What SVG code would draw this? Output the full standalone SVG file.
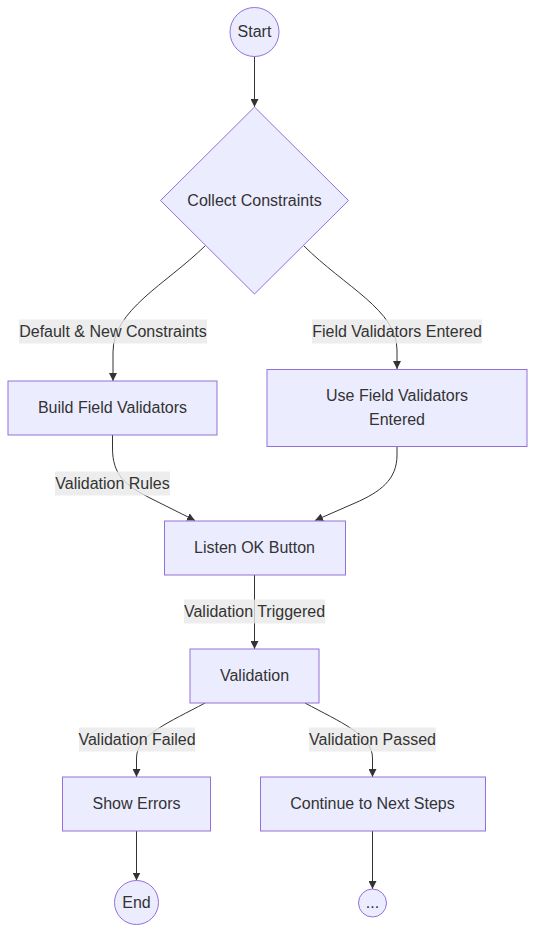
<svg xmlns="http://www.w3.org/2000/svg" width="535" height="933" viewBox="0 0 535 933">
<style>
.node{fill:#ECECFF;stroke:#9370DB;stroke-width:1}
.t{font-family:"Liberation Sans",Arial,sans-serif;font-size:16px;fill:#333333;text-anchor:middle;dominant-baseline:central}
.e{fill:none;stroke:#333333;stroke-width:1}
.lb{fill:#e8e8e8;opacity:0.8}
</style>
<defs>
<marker id="arr" viewBox="0 0 10 10" refX="10" refY="5" markerWidth="8" markerHeight="8" markerUnits="userSpaceOnUse" orient="auto">
<path d="M0,0 L10,5 L0,10 z" fill="#333333"/>
</marker>
</defs>
<rect width="535" height="933" fill="#ffffff"/>
<g id="edges">
<path class="e" d="M254.5,56.5 L254.5,107" marker-end="url(#arr)"/>
<path class="e" d="M205.5,245.5 C165,285 113,310 113,352 L113,381" marker-end="url(#arr)"/>
<path class="e" d="M303.5,245.5 C345,287 397,310 397,350 L397,369" marker-end="url(#arr)"/>
<path class="e" d="M112.5,435 L112.5,448 C112.5,475 125,485 150,498 L195,520.5" marker-end="url(#arr)"/>
<path class="e" d="M397,446 L397,455 C397,480 380,492 355,503 L315,520.5" marker-end="url(#arr)"/>
<path class="e" d="M254.5,575 L254.5,649" marker-end="url(#arr)"/>
<path class="e" d="M205,703 C170,722 136.5,735 136.5,758 L136.5,777" marker-end="url(#arr)"/>
<path class="e" d="M305,703 C340,722 372.5,735 372.5,758 L372.5,777" marker-end="url(#arr)"/>
<path class="e" d="M136.5,831 L136.5,880.5" marker-end="url(#arr)"/>
<path class="e" d="M372.5,831 L372.5,889" marker-end="url(#arr)"/>
</g>
<g id="edge-labels">
<g id="lbl-default"><rect class="lb" x="19" y="319.5" width="188" height="24"/><text class="t" x="113" y="331">Default &amp; New Constraints</text></g>
<g id="lbl-field"><rect class="lb" x="312" y="319.5" width="170" height="24"/><text class="t" x="397" y="331">Field Validators Entered</text></g>
<g id="lbl-rules"><rect class="lb" x="55" y="471.5" width="115" height="24"/><text class="t" x="112.5" y="483">Validation Rules</text></g>
<g id="lbl-trig"><rect class="lb" x="184" y="599.5" width="141" height="24"/><text class="t" x="254.5" y="611">Validation Triggered</text></g>
<g id="lbl-fail"><rect class="lb" x="79" y="727.5" width="116" height="24"/><text class="t" x="137" y="739">Validation Failed</text></g>
<g id="lbl-pass"><rect class="lb" x="309" y="727.5" width="127" height="24"/><text class="t" x="372.5" y="739">Validation Passed</text></g>
</g>
<g id="start"><circle class="node" cx="254.5" cy="32" r="24.5"/><text class="t" x="254.5" y="31.5">Start</text></g>
<g id="collect"><polygon class="node" points="254.5,107 348.5,200.5 254.5,294 160.5,200.5"/><text class="t" x="254.5" y="200">Collect Constraints</text></g>
<g id="build"><rect class="node" x="8" y="381" width="209" height="54"/><text class="t" x="112.5" y="407.5">Build Field Validators</text></g>
<g id="use"><rect class="node" x="267" y="369.5" width="260" height="77"/><text class="t" x="397" y="395">Use Field Validators</text><text class="t" x="397" y="419">Entered</text></g>
<g id="listen"><rect class="node" x="164.5" y="521" width="181" height="54"/><text class="t" x="254.5" y="547.5">Listen OK Button</text></g>
<g id="validation"><rect class="node" x="190" y="649" width="129" height="54"/><text class="t" x="254.5" y="675.5">Validation</text></g>
<g id="errors"><rect class="node" x="62.5" y="777" width="148" height="54"/><text class="t" x="136.5" y="803.5">Show Errors</text></g>
<g id="continue"><rect class="node" x="260.5" y="777" width="225" height="54"/><text class="t" x="372.5" y="803.5">Continue to Next Steps</text></g>
<g id="end"><circle class="node" cx="136.5" cy="902.5" r="22"/><text class="t" x="136.5" y="902">End</text></g>
<g id="more"><circle class="node" cx="372.5" cy="903" r="14"/><text class="t" x="372.5" y="902.5">...</text></g>
</svg>
